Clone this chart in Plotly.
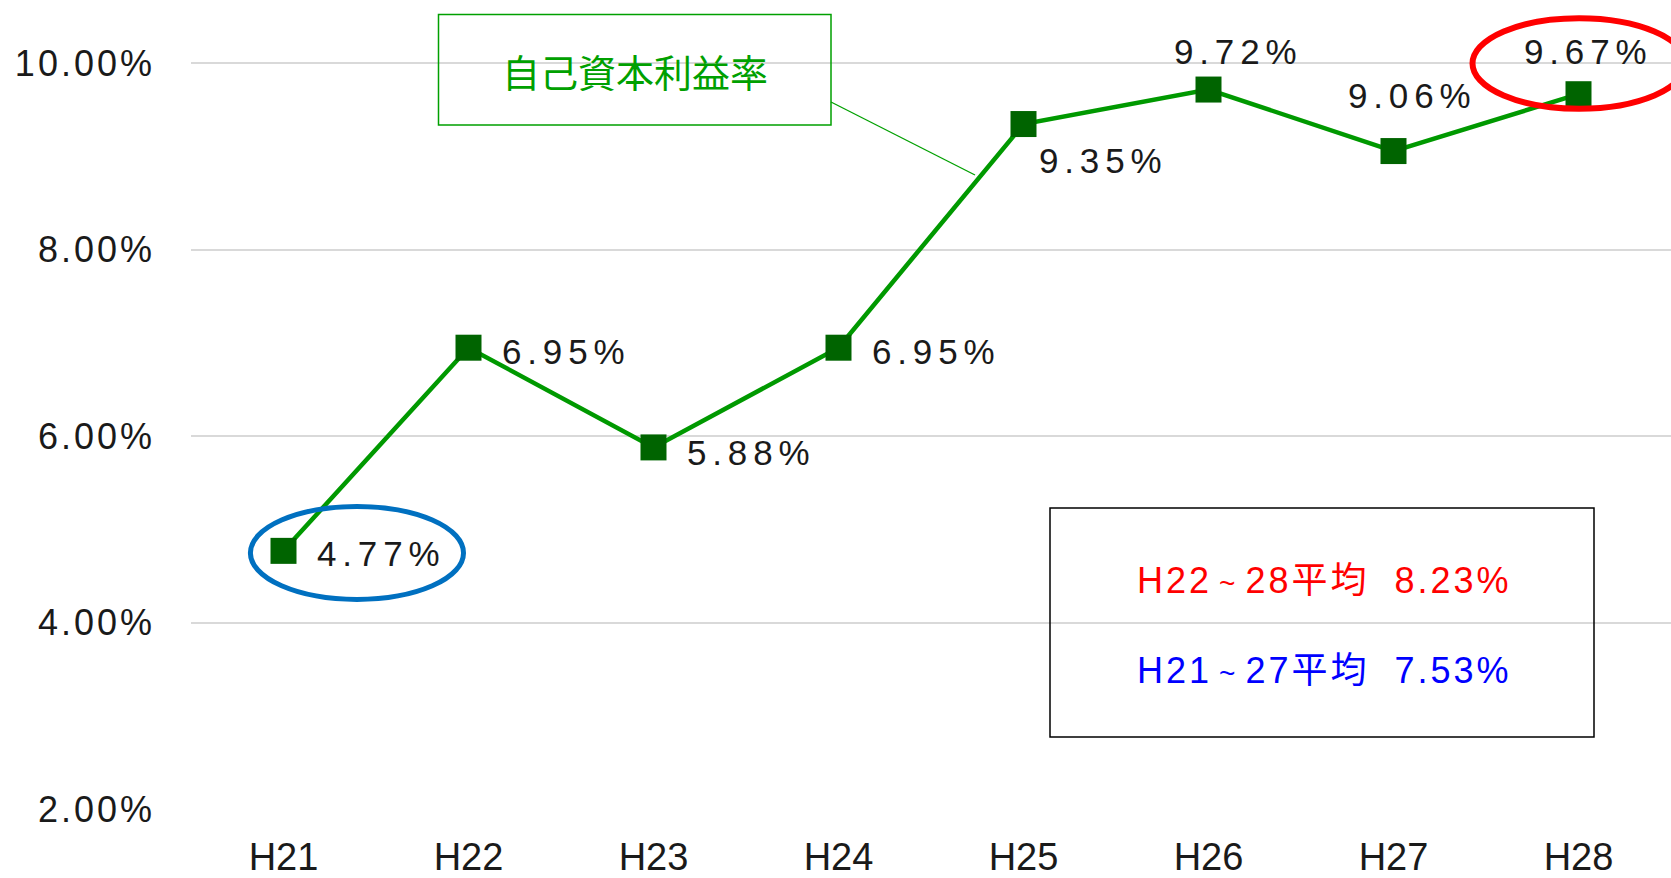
import plotly.graph_objects as go

# ---- data ----
years = ["H21", "H22", "H23", "H24", "H25", "H26", "H27", "H28"]
roe_pct = [4.77, 6.95, 5.88, 6.95, 9.35, 9.72, 9.06, 9.67]
y_tick_vals = [2, 4, 6, 8, 10]
series_title = "自己資本利益率"
avg_parts = [("H22", "28平均", "8.23%"), ("H21", "27平均", "7.53%")]
avg_colors = ["#ff0000", "#0000ff"]

# ---- layout constants ----
W, H = 1671, 878
L, R, T, B = 191, 0, 0, 69
plot_w = W - L - R
plot_h = H - T - B
PX_PER_UNIT = 93.25
Y_MIN = 2.0
Y_MAX = 10.0 + 63.5 / PX_PER_UNIT

def pxx(x):
    return (x - L) / plot_w

def pxy(y):
    return (H - B - y) / plot_h

FONT = "Liberation Sans, Arial, Noto Sans CJK JP, sans-serif"
CJK = "Noto Sans CJK JP, Liberation Sans, sans-serif"
HAIR = "\u200a"
SIXTH = "\u2006"
NB = "\u00a0"

def spaced(s, sep):
    return sep.join(list(s))

fig = go.Figure()
fig.add_trace(go.Scatter(
    x=years, y=roe_pct, mode="lines+markers",
    line=dict(color="#009900", width=4.5),
    marker=dict(symbol="square", size=26, color="#006400"),
    hoverinfo="skip", showlegend=False,
))

# data labels: (xanchor, xshift, yshift)
placement = [
    ("left", 31, -3), ("left", 31, -4), ("left", 31, -5), ("left", 31, -4),
    ("left", 13, -36), ("center", 27, 38), ("center", 16, 56), ("center", 7, 43),
]
annotations = []
for yr, v, (xa, dx, dy) in zip(years, roe_pct, placement):
    annotations.append(dict(
        x=yr, y=v, xref="x", yref="y", text=spaced(f"{v:.2f}%", SIXTH),
        showarrow=False, xanchor=xa, yanchor="middle", xshift=dx, yshift=dy,
        font=dict(family=FONT, size=35, color="#1a1a1a"),
    ))

# series title box text
annotations.append(dict(
    x=pxx(634.5), y=pxy(71), xref="paper", yref="paper", text=series_title,
    showarrow=False, xanchor="center", yanchor="middle",
    font=dict(family=CJK, size=38, color="#00a000"),
))
# average box texts
for i, ((a, b, c), col) in enumerate(zip(avg_parts, avg_colors)):
    txt = (spaced(a, HAIR) + NB + "<span style='font-size:28px'>~</span>" + NB
           + spaced(b, HAIR) + NB + "\u2002" + spaced(c, HAIR))
    annotations.append(dict(
        x=pxx(1323), y=pxy(581 + i * 89), xref="paper", yref="paper",
        text=txt, showarrow=False, xanchor="center", yanchor="middle",
        font=dict(family=FONT, size=36, color=col),
    ))

shapes = [
    dict(type="rect", xref="paper", yref="paper",
         x0=pxx(438.5), x1=pxx(831), y0=pxy(125), y1=pxy(14.5),
         line=dict(color="#00a000", width=1.5), fillcolor="rgba(0,0,0,0)"),
    dict(type="line", xref="paper", yref="paper",
         x0=pxx(831), y0=pxy(102), x1=pxx(975), y1=pxy(175),
         line=dict(color="#00a000", width=1.3)),
    dict(type="rect", xref="paper", yref="paper",
         x0=pxx(1050), x1=pxx(1594), y0=pxy(737), y1=pxy(508),
         line=dict(color="#000000", width=1.5), fillcolor="rgba(0,0,0,0)"),
]

# highlight ellipses around first and last points (data-relative)
def ellipse(idx, val, dx, dy, hw, hh, color, width):
    return dict(type="circle", xref="x", yref="y",
                x0=idx + dx - hw, x1=idx + dx + hw,
                y0=val + dy - hh, y1=val + dy + hh,
                line=dict(color=color, width=width))

shapes.append(ellipse(0, roe_pct[0], 0.397, -0.022, 0.576, 0.499, "#0070c0", 5))
shapes.append(ellipse(len(years) - 1, roe_pct[-1], 0.003, 0.33, 0.576, 0.486, "#ff0000", 6))

fig.update_layout(
    width=W, height=H,
    margin=dict(l=L, r=R, t=T, b=B, pad=0, autoexpand=False),
    paper_bgcolor="white", plot_bgcolor="white",
    annotations=annotations, shapes=shapes,
    xaxis=dict(
        type="category", range=[-0.5, len(years) - 0.5],
        showgrid=False, showline=False, zeroline=False, ticks="",
        tickfont=dict(family=FONT, size=38, color="#1a1a1a"),
        ticklabelstandoff=22, automargin=False,
    ),
    yaxis=dict(
        range=[Y_MIN, Y_MAX], tickvals=y_tick_vals,
        ticktext=[spaced(f"{v:.2f}%", HAIR) for v in y_tick_vals],
        showgrid=True, gridcolor="#d9d9d9", gridwidth=1.5,
        showline=False, zeroline=False, ticks="",
        tickfont=dict(family=FONT, size=36, color="#1a1a1a"),
        ticklabelstandoff=38, automargin=False,
    ),
)

fig.write_html(
    "out.html",
    config={"displayModeBar": False},
    post_script="document.body.style.margin='0';document.body.style.overflow='hidden';",
)
